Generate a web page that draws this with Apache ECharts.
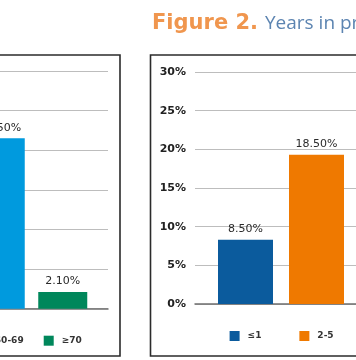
<!DOCTYPE html>
<html>
<head>
<meta charset="utf-8">
<script src="https://cdn.jsdelivr.net/npm/echarts@6/dist/echarts.min.js"></script>
<style>
html,body{margin:0;padding:0;width:356px;height:360px;overflow:hidden;background:#fff;position:relative;}
#c{position:absolute;left:-200px;top:0;width:756px;height:360px;}
</style>
</head>
<body>
<div id="c"></div>
<script>
// ---- data ----
var leftCategories = ['60-69', '≥70'];
var leftValues = [21.5, 2.1];
var leftLabels = ['21.50%', '2.10%'];
var leftColors = ['#009ADE', '#00875B'];

var rightCategories = ['≤1', '2-5'];
var rightValues = [8.3, 19.3];
var rightLabels = ['8.50%', '18.50%'];
var rightColors = ['#0B5B9D', '#EF7900'];

var yTicks = [0, 5, 10, 15, 20, 25, 30];
var titleBold = 'Figure 2.';
var titleRest = 'Years in practice';

// ---- layout (page coords, shifted by OFF into canvas) ----
var OFF = 200;
function X(v){ return v + OFF; }

var chart = echarts.init(document.getElementById('c'), null, {renderer:'canvas'});

function richFor(colors){
  var r = { t: { fontFamily:'DejaVu Sans', fontWeight:'bold', fontSize:9, color:'#333', padding:[0,0,0,8] } };
  colors.forEach(function(c,i){ r['s'+i] = { width:10, height:10, backgroundColor:c }; });
  return r;
}

function valueY(gridIndex){
  return {
    gridIndex: gridIndex, type:'value', min: yTicks[0], max: yTicks[yTicks.length-1], interval: 5,
    axisLine:{show:false}, axisTick:{show:false},
    axisLabel:{ formatter:'{value}%', fontFamily:'DejaVu Sans', fontWeight:'bold', fontSize:11, color:'#222', margin:9 },
    splitLine:{ lineStyle:{ color:'#bdbdbd', width:1 } }
  };
}
function hiddenY(gridIndex){
  return { gridIndex: gridIndex, type:'value', min: yTicks[0], max: yTicks[yTicks.length-1], show:false };
}
function baseX(gridIndex){
  return { gridIndex: gridIndex, type:'value', min:0, max:1,
    axisLine:{ show:true, lineStyle:{ color:'#6f6f6f', width:1.5 } },
    axisTick:{show:false}, axisLabel:{show:false}, splitLine:{show:false} };
}
function catX(gridIndex, cats, colors){
  return { gridIndex: gridIndex, type:'category', data: cats,
    axisLine:{show:false}, axisTick:{show:false},
    axisLabel:{ interval:0, margin:27, formatter:function(v,i){ return '{s'+i+'|}{t|'+v+'}'; }, rich: richFor(colors) } };
}
function barSeries(axisIndex, vals, labels, colors, width){
  return {
    type:'bar', xAxisIndex: axisIndex, yAxisIndex: axisIndex, barWidth: width,
    data: vals.map(function(v,i){ return { value:v, itemStyle:{ color: colors[i] } }; }),
    label:{ show:true, position:'top', distance:5, fontFamily:'DejaVu Sans', fontSize:11, color:'#2a2a2a',
      formatter:function(p){ return labels[p.dataIndex]; } }
  };
}

var option = {
  animation:false,
  grid:[
    { left:X(-150), top:71, width:258, height:237.7 },
    { left:X(-31), top:71, width:125, height:237.7 },
    { left:X(195), top:72, width:320, height:232 },
    { left:X(210), top:72, width:142, height:232 }
  ],
  xAxis:[ baseX(0), catX(1, leftCategories, leftColors), baseX(2), catX(3, rightCategories, rightColors) ],
  yAxis:[ valueY(0), hiddenY(1), valueY(2), hiddenY(3) ],
  series:[
    { type:'bar', xAxisIndex:0, yAxisIndex:0, data:[] },
    barSeries(1, leftValues, leftLabels, leftColors, 49),
    { type:'bar', xAxisIndex:2, yAxisIndex:2, data:[] },
    barSeries(3, rightValues, rightLabels, rightColors, 55)
  ],
  graphic:[
    { type:'rect', shape:{ x:X(-190), y:55, width:310, height:301 }, style:{ fill:'none', stroke:'#2b2b2b', lineWidth:1.6 }, silent:true },
    { type:'rect', shape:{ x:X(150.5), y:55, width:320, height:301 }, style:{ fill:'none', stroke:'#2b2b2b', lineWidth:1.6 }, silent:true },
    { type:'text', x:X(152), y:13, style:{ text:titleBold, fontFamily:'DejaVu Sans', fontWeight:'bold', fontSize:21, fill:'#F0964E', verticalAlign:'top' } },
    { type:'text', x:X(265), y:14, style:{ text:titleRest, fontFamily:'Open Sans', fontSize:19, fill:'#5C84B1', verticalAlign:'top' } }
  ]
};
chart.setOption(option);
</script>
</body>
</html>
